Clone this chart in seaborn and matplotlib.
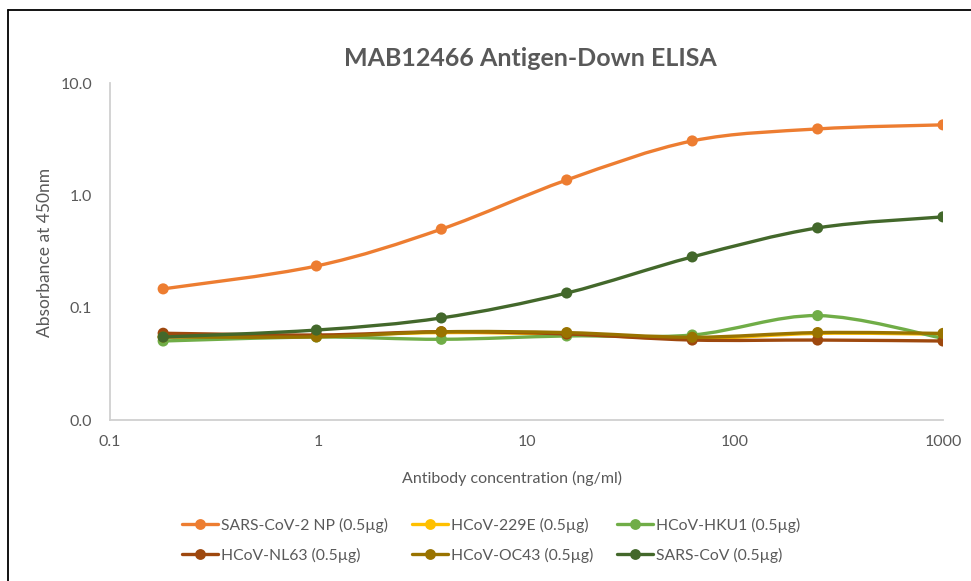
import numpy as np
import pandas as pd
import seaborn as sns
import matplotlib.pyplot as plt
from matplotlib.path import Path
from matplotlib.patches import PathPatch
from matplotlib.lines import Line2D

conc = [0.18, 0.98, 3.9, 15.6, 62.5, 250, 1000]

sars2_np = [0.147, 0.235, 0.50, 1.37, 3.05, 3.90, 4.24]
hcov_229e = [0.055, 0.056, 0.060, 0.058, 0.053, 0.059, 0.058]
hcov_hku1 = [0.0505, 0.0548, 0.0523, 0.056, 0.0571, 0.085, 0.0534]
hcov_nl63 = [0.0592, 0.0571, 0.0611, 0.0583, 0.0515, 0.0515, 0.0505]
hcov_oc43 = [0.0548, 0.055, 0.061, 0.060, 0.0545, 0.060, 0.059]
sars_cov = [0.0548, 0.0632, 0.081, 0.135, 0.283, 0.513, 0.643]

series_names = ["SARS-CoV-2 NP (0.5µg)", "HCoV-229E (0.5µg)", "HCoV-HKU1 (0.5µg)",
                "HCoV-NL63 (0.5µg)", "HCoV-OC43 (0.5µg)", "SARS-CoV (0.5µg)"]
series_vals = [sars2_np, hcov_229e, hcov_hku1, hcov_nl63, hcov_oc43, sars_cov]
colors = ["#ED7D31", "#FFC000", "#70AD47", "#9E480E", "#997300", "#43682B"]

df = pd.DataFrame([(n, c, v) for n, vals in zip(series_names, series_vals)
                   for c, v in zip(conc, vals)], columns=["series", "conc", "od"])

sns.set_style("white")
plt.rcParams['font.family'] = ['Lato', 'DejaVu Sans']
grey = "#595959"


def smooth_path(xs, ys):
    # excel-like smoothed line: catmull-rom bezier in log space
    P = np.column_stack([np.log10(xs), np.log10(ys)])
    n = len(P)
    verts = [P[0]]
    codes = [Path.MOVETO]
    for i in range(n - 1):
        p0 = P[i - 1] if i > 0 else P[i]
        p1, p2 = P[i], P[i + 1]
        p3 = P[i + 2] if i + 2 < n else P[i + 1]
        verts += [p1 + (p2 - p0) / 6, p2 - (p3 - p1) / 6, p2]
        codes += [Path.CURVE4] * 3
    return Path(10 ** np.array(verts), codes)


fig = plt.figure(figsize=(9.71, 5.81), dpi=100)
ax = fig.add_axes([110 / 971, 1 - 420 / 581, (943 - 110) / 971, (420 - 83) / 581])
ax.set_xscale("log")
ax.set_yscale("log")

for i, (name, col) in enumerate(zip(series_names, colors)):
    sub = df[df.series == name]
    patch = PathPatch(smooth_path(sub.conc.values, sub.od.values), facecolor="none",
                      edgecolor=col, lw=2.4, zorder=2 + 2 * i, capstyle="round")
    ax.add_patch(patch)
    sns.scatterplot(data=sub, x="conc", y="od", color=col, s=64, edgecolor="none",
                    ax=ax, zorder=3 + 2 * i, legend=False)

ax.set_xlim(0.1, 1000)
ax.set_ylim(0.01, 10)
ax.set_xticks([0.1, 1, 10, 100, 1000])
ax.set_xticklabels(["0.1", "1", "10", "100", "1000"])
ax.set_yticks([0.01, 0.1, 1, 10])
ax.set_yticklabels(["0.0", "0.1", "1.0", "10.0"])
ax.minorticks_off()
ax.tick_params(length=0, labelsize=11.5, labelcolor=grey)
ax.tick_params(axis="y", pad=13)
ax.tick_params(axis="x", pad=11)
ax.set_xlabel("")
ax.set_ylabel("")
for s in ["top", "right"]:
    ax.spines[s].set_visible(False)
for s in ["left", "bottom"]:
    ax.spines[s].set_color("#D0D0D0")
    ax.spines[s].set_linewidth(1.3)

fig.text(530 / 971, 1 - 58 / 581, "MAB12466 Antigen-Down ELISA", ha="center", va="center",
         fontsize=18, fontweight="bold", color=grey)
fig.text(512 / 971, 1 - 478 / 581, "Antibody concentration (ng/ml)", ha="center", va="center",
         fontsize=11.5, color=grey)
fig.text(45 / 971, 1 - 252 / 581, "Absorbance at 450nm", ha="center", va="center",
         rotation=90, fontsize=12.5, color=grey)

handles = [Line2D([], [], color=c, lw=2.4, marker="o", markersize=7.8, markeredgewidth=0)
           for c in colors]
order = [0, 3, 1, 4, 2, 5]
leg = fig.legend([handles[k] for k in order], [series_names[k] for k in order],
                 ncol=3, loc="center left", bbox_to_anchor=(168 / 971, 1 - 540 / 581),
                 frameon=False, fontsize=11.3, handlelength=2.3, handletextpad=0.2,
                 columnspacing=1.5, labelspacing=0.95)
for t in leg.get_texts():
    t.set_color(grey)

fig.add_artist(Line2D([8 / 971, 8 / 971], [0, 1 - 10 / 581], color="black", lw=1.3))
fig.add_artist(Line2D([8 / 971, 1], [1 - 10 / 581, 1 - 10 / 581], color="black", lw=1.3))

fig.savefig("out.png", dpi=100)
